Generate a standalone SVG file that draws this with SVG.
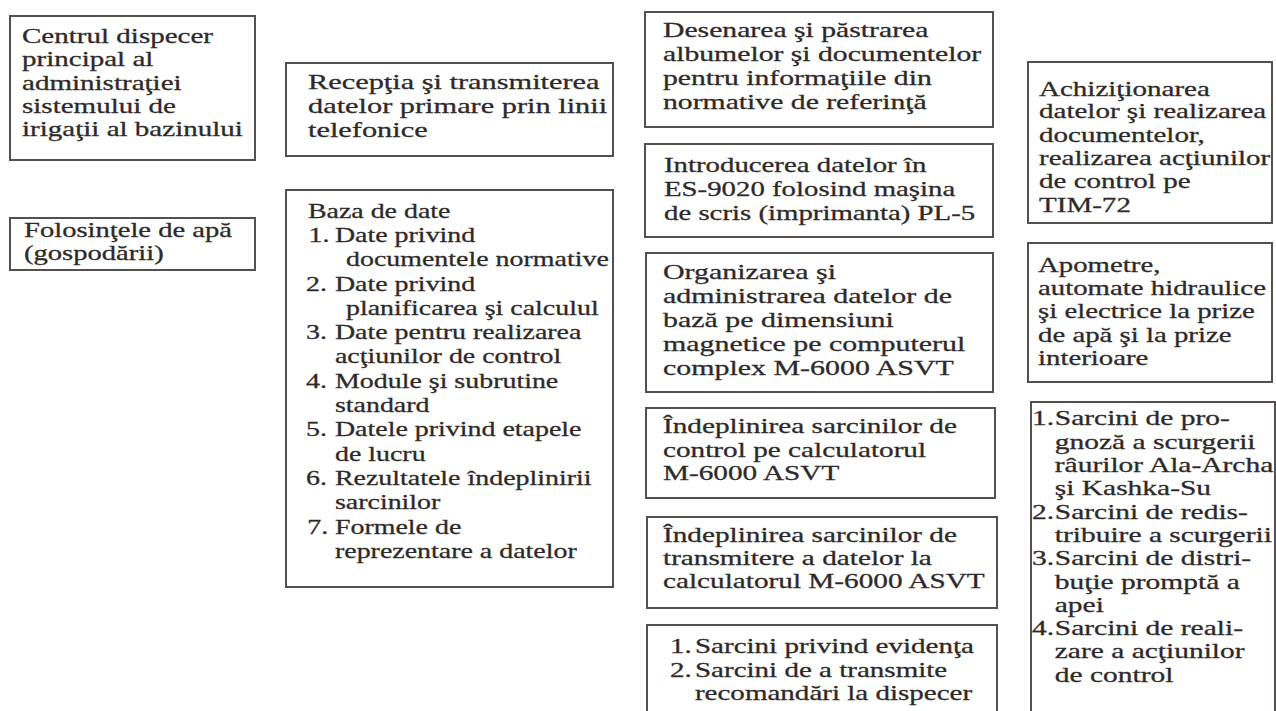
<svg xmlns="http://www.w3.org/2000/svg" width="1276" height="711" viewBox="0 0 1276 711">
<style>
.b{fill:none;stroke:#555050;stroke-width:2}
.t{font-family:"Liberation Serif","Times New Roman",serif;font-size:22px;fill:#2f2a2a;stroke:#2f2a2a;stroke-width:0.3}
</style>
<rect width="1276" height="711" fill="#ffffff"/>
<g id="connectors"></g>

<g id="n1">
<rect class="b" x="10" y="16" width="245" height="144"/>
<g transform="translate(22,0) scale(1.32,1)">
<text class="t" x="0" y="43">Centrul dispecer</text>
<text class="t" x="0" y="66.5">principal al</text>
<text class="t" x="0" y="90">administraţiei</text>
<text class="t" x="0" y="113">sistemului de</text>
<text class="t" x="0" y="136.5">irigaţii al bazinului</text>
</g>
</g>

<g id="n2">
<rect class="b" x="10" y="218" width="245" height="52"/>
<g transform="translate(24,0) scale(1.30,1)">
<text class="t" x="0" y="237">Folosinţele de apă</text>
<text class="t" x="0" y="260">(gospodării)</text>
</g>
</g>

<g id="n3">
<rect class="b" x="286" y="63" width="327" height="93"/>
<g transform="translate(308,0) scale(1.38,1)">
<text class="t" x="0" y="89">Recepţia şi transmiterea</text>
<text class="t" x="0" y="113">datelor primare prin linii</text>
<text class="t" x="0" y="137">telefonice</text>
</g>
</g>

<g id="n4">
<rect class="b" x="286" y="190" width="327" height="397"/>
<g transform="translate(306,0) scale(1.27,1)">
<text class="t" x="1.5" y="218">Baza de date</text>
<text class="t" x="2" y="242">1.</text><text class="t" x="22.8" y="242">Date privind</text>
<text class="t" x="31.5" y="266.3">documentele normative</text>
<text class="t" x="0" y="290.6">2.</text><text class="t" x="22.8" y="290.6">Date privind</text>
<text class="t" x="31.5" y="314.9">planificarea şi calculul</text>
<text class="t" x="0" y="339.2">3.</text><text class="t" x="22.8" y="339.2">Date pentru realizarea</text>
<text class="t" x="22.8" y="363.5">acţiunilor de control</text>
<text class="t" x="0" y="387.8">4.</text><text class="t" x="22.8" y="387.8">Module şi subrutine</text>
<text class="t" x="22.8" y="412.1">standard</text>
<text class="t" x="0" y="436.4">5.</text><text class="t" x="22.8" y="436.4">Datele privind etapele</text>
<text class="t" x="22.8" y="460.7">de lucru</text>
<text class="t" x="0" y="485">6.</text><text class="t" x="22.8" y="485">Rezultatele îndeplinirii</text>
<text class="t" x="22.8" y="509.3">sarcinilor</text>
<text class="t" x="1" y="533.6">7.</text><text class="t" x="22.8" y="533.6">Formele de</text>
<text class="t" x="22.8" y="557.9">reprezentare a datelor</text>
</g>
</g>

<g id="n5">
<rect class="b" x="645" y="12" width="348" height="115"/>
<g transform="translate(663,0) scale(1.35,1)">
<text class="t" x="0" y="37">Desenarea şi păstrarea</text>
<text class="t" x="0" y="61">albumelor şi documentelor</text>
<text class="t" x="0" y="85">pentru informaţiile din</text>
<text class="t" x="0" y="109">normative de referinţă</text>
</g>
</g>

<g id="n6">
<rect class="b" x="645" y="144" width="348" height="93"/>
<g transform="translate(664,0) scale(1.31,1)">
<text class="t" x="0" y="172">Introducerea datelor în</text>
<text class="t" x="0" y="196">ES-9020 folosind maşina</text>
<text class="t" x="0" y="220">de scris (imprimanta) PL-5</text>
</g>
</g>

<g id="n7">
<rect class="b" x="646" y="253" width="347" height="139"/>
<g transform="translate(663,0) scale(1.36,1)">
<text class="t" x="0" y="279">Organizarea şi</text>
<text class="t" x="0" y="303">administrarea datelor de</text>
<text class="t" x="0" y="327">bază pe dimensiuni</text>
<text class="t" x="0" y="351">magnetice pe computerul</text>
<text class="t" x="0" y="375">complex M-6000 ASVT</text>
</g>
</g>

<g id="n8">
<rect class="b" x="646" y="408" width="349" height="90"/>
<g transform="translate(663,0) scale(1.33,1)">
<text class="t" x="0" y="433">Îndeplinirea sarcinilor de</text>
<text class="t" x="0" y="457">control pe calculatorul</text>
<text class="t" x="0" y="480">M-6000 ASVT</text>
</g>
</g>

<g id="n9">
<rect class="b" x="647" y="517" width="350" height="91"/>
<g transform="translate(663,0) scale(1.33,1)">
<text class="t" x="0" y="542">Îndeplinirea sarcinilor de</text>
<text class="t" x="0" y="565">transmitere a datelor la</text>
<text class="t" x="0" y="588">calculatorul M-6000 ASVT</text>
</g>
</g>

<g id="n10">
<rect class="b" x="647" y="625" width="350" height="100"/>
<g transform="translate(670,0) scale(1.32,1)">
<text class="t" x="0" y="653">1.</text><text class="t" x="18.9" y="653">Sarcini privind evidenţa</text>
<text class="t" x="0" y="677">2.</text><text class="t" x="18.9" y="677">Sarcini de a transmite</text>
<text class="t" x="18.9" y="700">recomandări la dispecer</text>
</g>
</g>

<g id="n11">
<rect class="b" x="1028" y="62" width="244" height="161"/>
<g transform="translate(1039,0) scale(1.32,1)">
<text class="t" x="0" y="95.7">Achiziţionarea</text>
<text class="t" x="0" y="118.3">datelor şi realizarea</text>
<text class="t" x="0" y="141.7">documentelor,</text>
<text class="t" x="0" y="165">realizarea acţiunilor</text>
<text class="t" x="0" y="188.3">de control pe</text>
<text class="t" x="0" y="212.3">TIM-72</text>
</g>
</g>

<g id="n12">
<rect class="b" x="1028" y="243" width="244" height="139"/>
<g transform="translate(1038,0) scale(1.31,1)">
<text class="t" x="0" y="272">Apometre,</text>
<text class="t" x="0" y="295">automate hidraulice</text>
<text class="t" x="0" y="318">şi electrice la prize</text>
<text class="t" x="0" y="342">de apă şi la prize</text>
<text class="t" x="0" y="365">interioare</text>
</g>
</g>

<g id="n13">
<rect class="b" x="1031" y="402" width="244" height="320"/>
<g transform="translate(1032,0) scale(1.34,1)">
<text class="t" x="0" y="425.5">1.</text><text class="t" x="17" y="425.5">Sarcini de pro-</text>
<text class="t" x="17" y="448.8">gnoză a scurgerii</text>
<text class="t" x="17" y="472.1">râurilor Ala-Archa</text>
<text class="t" x="17" y="495.4">şi Kashka-Su</text>
<text class="t" x="0" y="518.7">2.</text><text class="t" x="17" y="518.7">Sarcini de redis-</text>
<text class="t" x="17" y="542">tribuire a scurgerii</text>
<text class="t" x="0" y="565.3">3.</text><text class="t" x="17" y="565.3">Sarcini de distri-</text>
<text class="t" x="17" y="588.6">buţie promptă a</text>
<text class="t" x="17" y="611.9">apei</text>
<text class="t" x="0" y="635.2">4.</text><text class="t" x="17" y="635.2">Sarcini de reali-</text>
<text class="t" x="17" y="658.5">zare a acţiunilor</text>
<text class="t" x="17" y="681.8">de control</text>
</g>
</g>
</svg>
